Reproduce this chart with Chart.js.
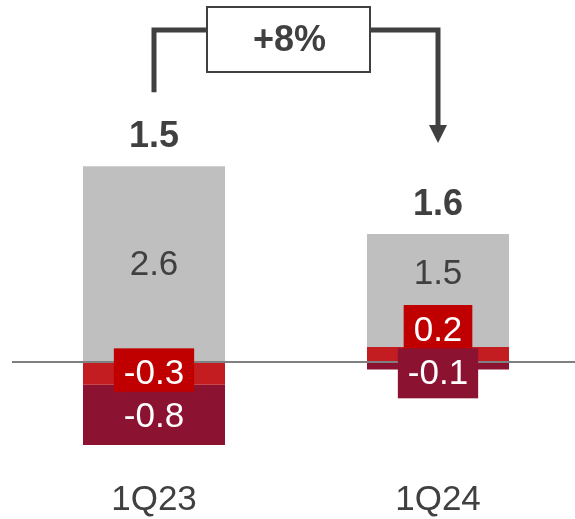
<!DOCTYPE html>
<html>
<head>
<meta charset="utf-8">
<script src="https://cdn.jsdelivr.net/npm/chart.js@4/dist/chart.umd.min.js"></script>
<style>
  html, body { margin: 0; padding: 0; background: #ffffff; overflow: hidden; }
  #wrap { width: 575px; height: 519px; overflow: hidden; }
  #c { display: block; }
</style>
</head>
<body>
<div id="wrap"><canvas id="c" width="580" height="519"></canvas></div>
<script>
// Quarter categories and the three stacked components
const categories = ['1Q23', '1Q24'];
const coreValues = [2.6, 1.5];
const redValues = [-0.3, 0.2];
const darkValues = [-0.8, -0.1];
const totals = [1.5, 1.6];
const changeLabel = '+8%';

const GREY = '#BFBFBF';
const RED_BAR = '#C31C21';
const RED_BOX = '#C00000';
const DARK = '#8C1232';
const TEXT = '#404040';
const FONT = "'Liberation Sans', Arial, sans-serif";

// label look per dataset (red, grey, dark) and vertical nudges per category
const segStyles = [
  { text: '#FFFFFF', box: RED_BOX },
  { text: TEXT, box: null },
  { text: '#FFFFFF', box: DARK }
];
const labelShift = [[0, -24.5], [0, -17], [2, 7.5]];

const overlay = {
  id: 'overlay',
  afterDatasetsDraw(chart) {
    const ctx = chart.ctx;
    const yScale = chart.scales.y;
    const area = chart.chartArea;

    // zero baseline
    const y0 = yScale.getPixelForValue(0);
    ctx.save();
    ctx.strokeStyle = '#808080';
    ctx.lineWidth = 2;
    ctx.beginPath();
    ctx.moveTo(area.left, y0);
    ctx.lineTo(chart.width, y0);
    ctx.stroke();
    ctx.restore();

    // segment value labels
    ctx.save();
    ctx.font = '35px ' + FONT;
    ctx.textAlign = 'center';
    ctx.textBaseline = 'middle';
    chart.data.datasets.forEach((ds, di) => {
      const meta = chart.getDatasetMeta(di);
      meta.data.forEach((el, i) => {
        const v = ds.data[i];
        const txt = v.toFixed(1);
        const cy = (el.y + el.base) / 2 + labelShift[di][i];
        const st = segStyles[di];
        if (st.box) {
          const w = ctx.measureText(txt).width + 20;
          ctx.fillStyle = st.box;
          ctx.fillRect(el.x - w / 2, cy - 25, w, 50);
        }
        ctx.fillStyle = st.text;
        ctx.fillText(txt, el.x, cy + 1);
      });
    });
    ctx.restore();

    // totals above each stack
    const tops = categories.map((_, i) => {
      let pos = 0;
      chart.data.datasets.forEach(ds => { if (ds.data[i] > 0) pos += ds.data[i]; });
      return yScale.getPixelForValue(pos);
    });
    const xs = chart.getDatasetMeta(1).data.map(el => el.x);
    ctx.save();
    ctx.font = 'bold 36px ' + FONT;
    ctx.textAlign = 'center';
    ctx.textBaseline = 'alphabetic';
    ctx.fillStyle = TEXT;
    totals.forEach((t, i) => ctx.fillText(t.toFixed(1), xs[i], tops[i] - 19));
    ctx.restore();

    // change bracket with arrow
    const lx = xs[0], rx = xs[1];
    const hy = 30;
    const boxL = lx + 53, boxW = 163, boxT = 7, boxH = 65;
    ctx.save();
    ctx.strokeStyle = TEXT;
    ctx.lineWidth = 5;
    ctx.lineJoin = 'miter';
    ctx.lineCap = 'butt';
    ctx.beginPath();
    ctx.moveTo(lx, tops[0] - 74);
    ctx.lineTo(lx, hy);
    ctx.lineTo(rx, hy);
    ctx.lineTo(rx, tops[1] - 108);
    ctx.stroke();
    ctx.fillStyle = TEXT;
    ctx.beginPath();
    ctx.moveTo(rx - 9, tops[1] - 109);
    ctx.lineTo(rx + 9, tops[1] - 109);
    ctx.lineTo(rx, tops[1] - 91);
    ctx.closePath();
    ctx.fill();
    ctx.fillStyle = '#FFFFFF';
    ctx.fillRect(boxL, boxT, boxW, boxH);
    ctx.lineWidth = 2;
    ctx.strokeRect(boxL, boxT, boxW, boxH);
    ctx.fillStyle = TEXT;
    ctx.font = 'bold 36px ' + FONT;
    ctx.textAlign = 'center';
    ctx.textBaseline = 'middle';
    ctx.fillText(changeLabel, boxL + boxW / 2 + 1, boxT + boxH / 2 + 2);
    ctx.restore();
  }
};

new Chart(document.getElementById('c'), {
  type: 'bar',
  data: {
    labels: categories,
    datasets: [
      { label: 'red', data: redValues, backgroundColor: RED_BAR },
      { label: 'core', data: coreValues, backgroundColor: GREY },
      { label: 'dark', data: darkValues, backgroundColor: DARK }
    ]
  },
  options: {
    responsive: false,
    animation: false,
    devicePixelRatio: 1,
    layout: { padding: { left: 12, right: 0, top: 23, bottom: 0 } },
    datasets: { bar: { barPercentage: 0.5, categoryPercentage: 1, borderWidth: 0 } },
    plugins: { legend: { display: false }, tooltip: { enabled: false } },
    scales: {
      x: {
        stacked: true,
        grid: { display: false, drawTicks: false },
        border: { display: false },
        ticks: { color: TEXT, font: { family: FONT, size: 35 }, padding: 19, maxRotation: 0, autoSkip: false },
        afterFit(scale) { scale.height = 59; }
      },
      y: { stacked: true, display: false, min: -1.3, max: 4.5 }
    }
  },
  plugins: [overlay]
});
</script>
</body>
</html>
